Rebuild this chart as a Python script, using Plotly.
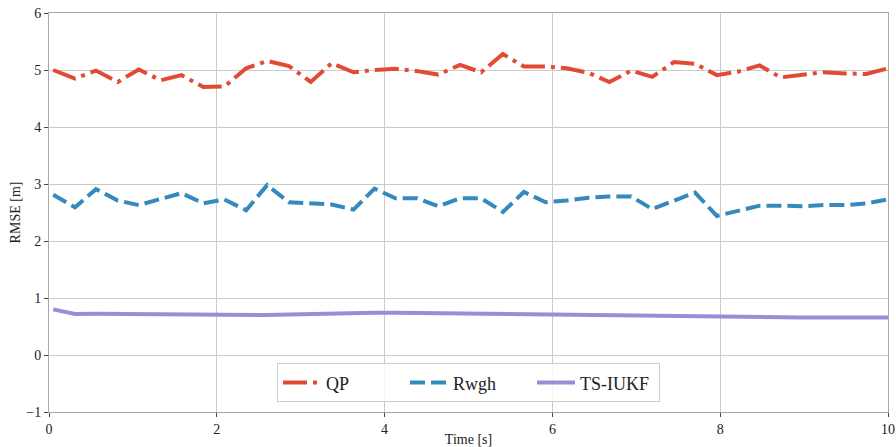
import plotly.graph_objects as go

# Sample times [s]
time_s = [0.05, 0.31, 0.56, 0.82, 1.07, 1.33, 1.58, 1.84, 2.09, 2.35,
          2.60, 2.86, 3.12, 3.37, 3.63, 3.88, 4.13, 4.39, 4.64, 4.90,
          5.15, 5.41, 5.66, 5.92, 6.17, 6.43, 6.68, 6.94, 7.19, 7.45,
          7.70, 7.96, 8.21, 8.47, 8.72, 8.98, 9.23, 9.49, 9.74, 10.00]

# RMSE [m] per method
rmse_qp = [5.00, 4.85, 4.99, 4.79, 5.01, 4.82, 4.91, 4.70, 4.71, 5.03,
           5.16, 5.07, 4.79, 5.12, 4.96, 5.00, 5.02, 4.98, 4.92, 5.09,
           4.96, 5.28, 5.06, 5.06, 5.03, 4.95, 4.79, 4.99, 4.88, 5.14,
           5.11, 4.91, 4.97, 5.08, 4.87, 4.91, 4.96, 4.94, 4.93, 5.03]

rmse_rwgh = [2.81, 2.59, 2.91, 2.71, 2.63, 2.74, 2.84, 2.66, 2.73, 2.54,
             2.98, 2.68, 2.66, 2.64, 2.55, 2.92, 2.75, 2.75, 2.61, 2.75,
             2.75, 2.51, 2.86, 2.68, 2.71, 2.76, 2.78, 2.78, 2.56, 2.70,
             2.85, 2.44, 2.53, 2.62, 2.62, 2.61, 2.63, 2.63, 2.66, 2.73]

rmse_tsiukf = [0.80, 0.72, 0.725, 0.72, 0.72, 0.72, 0.715, 0.71, 0.70, 0.70,
               0.70, 0.71, 0.72, 0.73, 0.735, 0.74, 0.74, 0.735, 0.73, 0.73,
               0.725, 0.72, 0.715, 0.71, 0.705, 0.70, 0.695, 0.69, 0.68, 0.675,
               0.67, 0.665, 0.66, 0.66, 0.66, 0.66, 0.66, 0.66, 0.66, 0.66]

y_ticks = [-1, 0, 1, 2, 3, 4, 5, 6]
x_ticks = [0, 2, 4, 6, 8, 10]

FONT = "Liberation Serif, Times New Roman, serif"

fig = go.Figure()
fig.add_trace(go.Scatter(x=time_s, y=rmse_qp, mode="lines", name="QP",
                         line=dict(color="#E24A33", width=4,
                                   dash="24px,6px,4px,6px")))
fig.add_trace(go.Scatter(x=time_s, y=rmse_rwgh, mode="lines", name="Rwgh",
                         line=dict(color="#348ABD", width=4, dash="15px,6px")))
fig.add_trace(go.Scatter(x=time_s, y=rmse_tsiukf, mode="lines", name="TS-IUKF",
                         line=dict(color="#988ED5", width=4)))

axis_common = dict(
    showgrid=True, gridcolor="#cbcbcb", gridwidth=1,
    showline=True, linecolor="#a8a8a8", linewidth=1, mirror=True,
    ticks="outside", ticklen=4, tickwidth=1, tickcolor="#444444",
    zeroline=False, automargin=False,
    tickfont=dict(family=FONT, size=14, color="#222222"),
)

fig.update_layout(
    width=896, height=447,
    margin=dict(l=49, r=8, t=13, b=35),
    paper_bgcolor="white", plot_bgcolor="white",
    font=dict(family=FONT, size=14, color="#222222"),
    xaxis=dict(range=[0, 10], tickvals=x_ticks,
               title=dict(text="Time [s]", standoff=0,
                          font=dict(family=FONT, size=14)),
               **axis_common),
    yaxis=dict(range=[-1, 6], tickvals=y_ticks,
               title=dict(text="RMSE [m]", standoff=2,
                          font=dict(family=FONT, size=14)),
               **axis_common),
    legend=dict(orientation="h", x=0.5, xanchor="center",
                y=0.024, yanchor="bottom",
                bgcolor="rgba(255,255,255,0.85)", bordercolor="#cccccc",
                borderwidth=1, font=dict(family=FONT, size=18),
                itemwidth=38, entrywidth=74, tracegroupgap=0),
    showlegend=True,
)

fig.write_html("out.html")
